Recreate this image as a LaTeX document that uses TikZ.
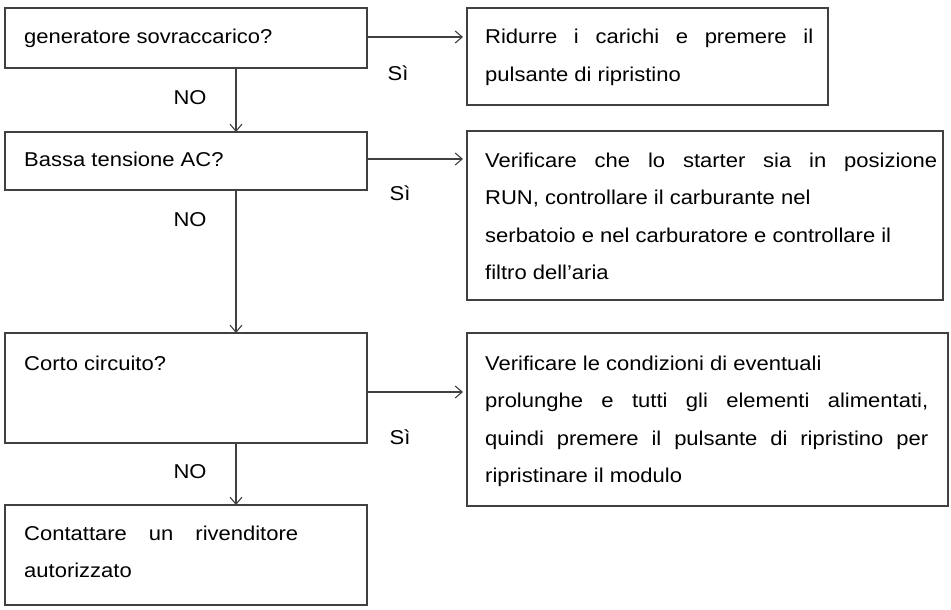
\documentclass[tikz,border=0pt]{standalone}
\usepackage{fontspec}
\setmainfont[FakeStretch=1.1]{Liberation Sans}
\usetikzlibrary{arrows.meta}
\begin{document}
\begin{tikzpicture}[x=1pt,y=-1pt,
  box/.style={draw=black!75,line width=1.1pt},
  txt/.style={anchor=base west,inner sep=0pt,align=justify,font=\fontsize{20}{37.5}\selectfont},
  arr/.style={draw=black!75,line width=1.1pt,-{Straight Barb[length=7pt,width=12pt]}},
  lab/.style={font=\fontsize{20}{24}\selectfont,inner sep=0pt}]
\useasboundingbox (0,0) rectangle (951,610);
% left boxes
\draw[box] (5,8) rectangle (367,68);
\node[txt] (t1) at (24,44) {generatore sovraccarico?};
\draw[box] (5,132) rectangle (367,190);
\node[txt] (t2) at (24,166) {Bassa tensione AC?};
\draw[box] (5,333) rectangle (367,443);
\node[txt] (t3) at (24,370) {Corto circuito?};
\draw[box] (5,505) rectangle (367,605);
\node[txt,text width=274pt] (t4) at (24,540) {Contattare un rivenditore\linebreak autorizzato};
% right boxes
\draw[box] (467,8) rectangle (828,105);
\node[txt,text width=328pt] (r1) at (485,44) {Ridurre i carichi e premere il\linebreak pulsante di ripristino};
\draw[box] (467,131) rectangle (943,300);
\node[txt,text width=452pt] (r2) at (485,167) {Verificare che lo starter sia in posizione\linebreak RUN, controllare il carburante nel\\ serbatoio e nel carburatore e controllare il\\ filtro dell'aria};
\draw[box] (467,333) rectangle (948,506);
\node[txt,text width=443pt] (r3) at (485,370) {Verificare le condizioni di eventuali\\ prolunghe e tutti gli elementi alimentati,\linebreak quindi premere il pulsante di ripristino per\linebreak ripristinare il modulo};
% connectors
\coordinate (a1) at (367,37); \coordinate (a1e) at (463,37);
\coordinate (a2) at (367,159); \coordinate (a2e) at (463,159);
\coordinate (a3) at (367,392); \coordinate (a3e) at (463,392);
\coordinate (v1) at (236,68); \coordinate (v1e) at (236,132);
\coordinate (v2) at (236,190); \coordinate (v2e) at (236,333);
\coordinate (v3) at (236,443); \coordinate (v3e) at (236,505);
\draw[arr] (a1) -- (a1e);
\draw[arr] (a2) -- (a2e);
\draw[arr] (a3) -- (a3e);
\draw[arr] (v1) -- (v1e);
\draw[arr] (v2) -- (v2e);
\draw[arr] (v3) -- (v3e);
\node[lab] (s1) at (398,73) {Sì};
\node[lab] (s2) at (400,193) {Sì};
\node[lab] (s3) at (400,437) {Sì};
\node[lab] (n1) at (190,98) {NO};
\node[lab] (n2) at (190,220) {NO};
\node[lab] (n3) at (190,472) {NO};
\end{tikzpicture}
\end{document}
